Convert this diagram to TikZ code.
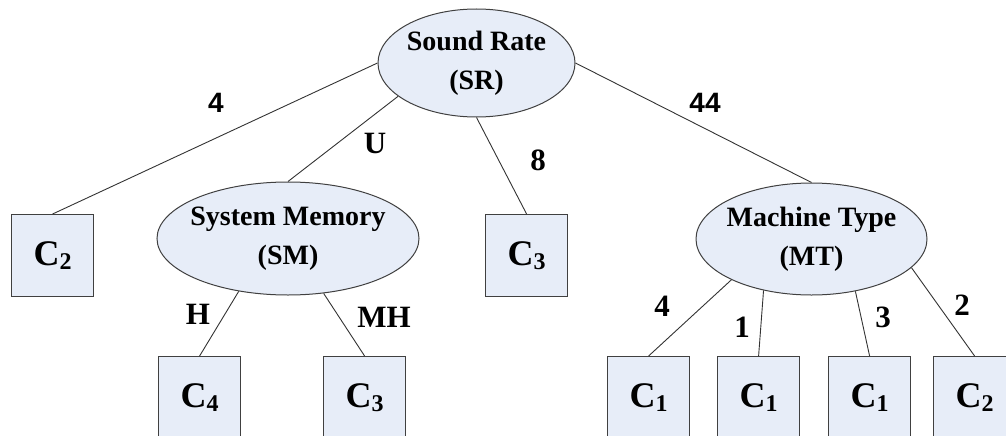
\documentclass[tikz,border=0pt]{standalone}
\usepackage{fontspec}
\setmainfont{Liberation Serif}
\newfontfamily\labsans{Liberation Sans}
\usetikzlibrary{shapes.geometric}
\definecolor{nodefill}{RGB}{231,237,248}
\newcommand{\bx}{82pt}
\newcommand{\cls}[1]{C\raisebox{-4pt}{\fontsize{24}{24}\selectfont #1}}

\begin{document}
\begin{tikzpicture}[x=1pt, y=-1pt,
    rect/.style={draw=black!75, fill=nodefill, line width=1.2pt, rectangle, anchor=north west, minimum width=\bx, minimum height=\bx, inner sep=0pt, font=\fontsize{36}{36}\selectfont\bfseries},
    attr/.style={draw=black!75, fill=nodefill, line width=1pt, ellipse, inner sep=0pt},
    attrtext/.style={inner sep=0pt, align=center, font=\fontsize{28}{39}\selectfont\bfseries},
    branch/.style={draw=black!80, line width=0.9pt},
    val/.style={inner sep=0pt, font=\fontsize{31}{31}\selectfont\bfseries},
    sval/.style={inner sep=0pt, font=\fontsize{28}{28}\selectfont\labsans\bfseries}]
    \clip (0,0) rectangle (1006,436);

    % Attribute nodes
    \node[attr, minimum width=197pt, minimum height=108pt] (sr) at (476.5,63) {};
    \node[attrtext] (sr-text) at (sr) {Sound Rate\\(SR)};
    \node[attr, minimum width=262pt, minimum height=113pt] (sm) at (288,238.5) {};
    \node[attrtext] (sm-text) at (sm) {System Memory\\(SM)};
    \node[attr, minimum width=231pt, minimum height=112pt] (mt) at (811.5,239) {};
    \node[attrtext] (mt-text) at (mt) {Machine Type\\(MT)};

    % Second row
    \node[rect] (c2a) at (11,214) {\cls{2}};
    \node[rect] (c3a) at (485,214) {\cls{3}};

    % Third row
    \node[rect] (c4) at (158,356) {\cls{4}};
    \node[rect] (c3b) at (323,356) {\cls{3}};
    \node[rect] (c1a) at (607,356) {\cls{1}};
    \node[rect] (c1b) at (717,356) {\cls{1}};
    \node[rect] (c1c) at (828,356) {\cls{1}};
    \node[rect] (c2b) at (933,356) {\cls{2}};

    % Branches
    \draw[branch] (sr.west) -- (c2a.north);
    \draw[branch] (sr.203) -- (sm.north);
    \draw[branch] (sr.south) -- (c3a.north);
    \draw[branch] (sr.east) -- (mt.north);
    \draw[branch] (sm.227) -- (c4.north);
    \draw[branch] (sm.303) -- (c3b.north);
    \draw[branch] (mt.207) -- (c1a.north);
    \draw[branch] (mt.227) -- (c1b.north);
    \draw[branch] (mt.310) -- (c1c.north);
    \draw[branch] (mt.344) -- (c2b.north);

    % Branch values
    \node[sval] (v-sr-1) at (216,103) {4};
    \node[val] (v-sr-2) at (375,143) {U};
    \node[val] (v-sr-3) at (538,160) {8};
    \node[sval] (v-sr-4) at (705,103) {44};
    \node[val] (v-sm-1) at (198,314) {H};
    \node[val] (v-sm-2) at (384,317) {MH};
    \node[val] (v-mt-1) at (662,306) {4};
    \node[val] (v-mt-2) at (742,327) {1};
    \node[val] (v-mt-3) at (883,317) {3};
    \node[val] (v-mt-4) at (962,305) {2};

\end{tikzpicture}
\end{document}
